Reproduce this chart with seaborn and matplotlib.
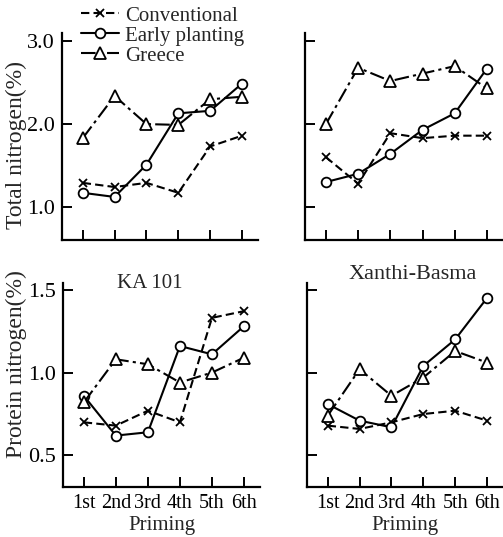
import matplotlib
matplotlib.use("Agg")
import matplotlib.pyplot as plt
import seaborn as sns
import pandas as pd

sns.set_theme(style="ticks")
plt.rcParams['font.family'] = ['Liberation Serif', 'DejaVu Serif']

priming = ["1st", "2nd", "3rd", "4th", "5th", "6th"]
series = ["Conventional", "Early planting", "Greece"]

# Total nitrogen (%)
ka_total_conv = [1.29, 1.24, 1.29, 1.17, 1.73, 1.86]
ka_total_early = [1.17, 1.12, 1.51, 2.13, 2.16, 2.49]
ka_total_greece = [1.83, 2.34, 2.00, 1.99, 2.30, 2.33]
xb_total_conv = [1.60, 1.28, 1.89, 1.83, 1.86, 1.86]
xb_total_early = [1.30, 1.40, 1.64, 1.93, 2.13, 2.67]
xb_total_greece = [2.00, 2.68, 2.52, 2.61, 2.70, 2.43]

# Protein nitrogen (%)
ka_prot_conv = [0.70, 0.68, 0.77, 0.70, 1.33, 1.37]
ka_prot_early = [0.86, 0.62, 0.64, 1.16, 1.11, 1.28]
ka_prot_greece = [0.82, 1.08, 1.05, 0.94, 1.00, 1.09]
xb_prot_conv = [0.68, 0.66, 0.70, 0.75, 0.77, 0.71]
xb_prot_early = [0.81, 0.71, 0.67, 1.04, 1.20, 1.45]
xb_prot_greece = [0.74, 1.02, 0.86, 0.97, 1.13, 1.06]

panels = [
    ("total", "KA 101", [ka_total_conv, ka_total_early, ka_total_greece]),
    ("total", "Xanthi-Basma", [xb_total_conv, xb_total_early, xb_total_greece]),
    ("protein", "KA 101", [ka_prot_conv, ka_prot_early, ka_prot_greece]),
    ("protein", "Xanthi-Basma", [xb_prot_conv, xb_prot_early, xb_prot_greece]),
]

styles = {
    "Conventional": dict(marker="x", linestyle=(0, (4, 2)), markersize=6, mew=1.3),
    "Early planting": dict(marker="o", linestyle="-", markersize=7, mfc="white", mew=1.3),
    "Greece": dict(marker="^", linestyle=(0, (7, 2, 1.5, 2)), markersize=8, mfc="white", mew=1.3),
}

W, H = 503, 537
fig = plt.figure(figsize=(W / 100, H / 100), dpi=100)

def axbox(x0, x1, ytop, ybot):
    return [x0 / W, 1 - ybot / H, (x1 - x0) / W, (ybot - ytop) / H]

boxes = [axbox(62, 258, 33, 240), axbox(305, 503, 33, 240),
         axbox(63, 260, 283, 487), axbox(307, 503, 283, 487)]

fs = 16
axes = []
for i, (kind, cultivar, vals) in enumerate(panels):
    ax = fig.add_axes(boxes[i])
    axes.append(ax)
    rows = []
    for s, v in zip(series, vals):
        for p, y in zip(priming, v):
            rows.append(dict(Priming=p, value=y, series=s))
    df = pd.DataFrame(rows)
    for s in series:
        sub = df[df.series == s]
        sns.lineplot(data=sub, x="Priming", y="value", ax=ax, color="black",
                     lw=1.5, mec="black", label=s, legend=False, **styles[s])
    ax.set_xlim(-0.65, 5.5)
    if kind == "total":
        ax.set_ylim(0.60, 3.10)
        ax.set_yticks([1.0, 2.0, 3.0])
    else:
        ax.set_ylim(0.31, 1.54)
        ax.set_yticks([0.5, 1.0, 1.5])
    ax.set_xticks(range(len(priming)))
    sns.despine(ax=ax)
    for sp in ["left", "bottom"]:
        ax.spines[sp].set_linewidth(1.6)
        ax.spines[sp].set_color("black")
    ax.tick_params(direction="in", length=7, width=1.4, colors="black",
                   labelsize=fs, pad=5)
    ax.set_xlabel("")
    ax.set_ylabel("")
    if kind == "total":
        ax.set_xticklabels([])
    else:
        ax.set_xticklabels(priming)
        ax.set_xlabel("Priming", fontsize=15, labelpad=2)
        ax.tick_params(axis="x", pad=5, labelsize=14.5)
    if i % 2 == 1:
        ax.set_yticklabels([])
    else:
        ax.set_yticklabels([f"{t:.1f}" for t in ax.get_yticks()])
        ax.set_ylabel("Total nitrogen(%)" if kind == "total" else "Protein nitrogen(%)",
                      fontsize=17)
        if kind == "total":
            ax.yaxis.set_label_coords(-0.18, 0.46)
        else:
            ax.yaxis.set_label_coords(-0.185, 0.605)
    if kind == "protein":
        if i == 2:
            ax.text(0.44, 1.0, cultivar, transform=ax.transAxes,
                    ha="center", va="center", fontsize=15)
        else:
            ax.text(0.54, 1.044, cultivar, transform=ax.transAxes,
                    ha="center", va="center", fontsize=16)

handles, labels = axes[0].get_legend_handles_labels()
fig.legend(handles, labels, loc="upper left", bbox_to_anchor=(81 / W, 1 - 6 / H),
           frameon=False, fontsize=15, handlelength=1.8, handletextpad=0.3,
           labelspacing=0.02, borderaxespad=0, borderpad=0)

fig.savefig("out.png", dpi=100, facecolor="white")
